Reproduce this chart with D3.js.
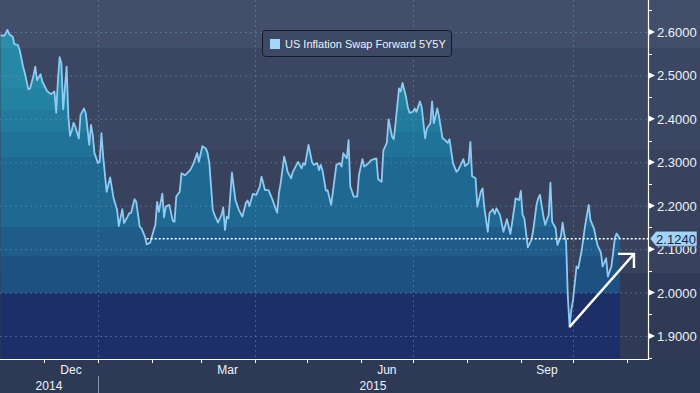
<!DOCTYPE html>
<html>
<head>
<meta charset="utf-8">
<script src="https://d3js.org/d3.v7.min.js"></script>
<style>
  body { margin: 0; background: #2e3a55; }
  svg { display: block; }
  text { font-family: "Liberation Sans", Arial, sans-serif; }
</style>
</head>
<body>
<svg id="chart" width="700" height="393"></svg>
<script>
// US Inflation Swap Forward 5Y5Y, Nov 2014 - Oct 2015
var dates = ["2014-11-06","2014-11-08","2014-11-09","2014-11-10","2014-11-11","2014-11-13","2014-11-14","2014-11-16","2014-11-17","2014-11-19",
  "2014-11-20","2014-11-22","2014-11-23","2014-11-25","2014-11-26","2014-11-27","2014-11-29","2014-11-30","2014-12-02","2014-12-03",
  "2014-12-05","2014-12-07","2014-12-08","2014-12-09","2014-12-10","2014-12-11","2014-12-12","2014-12-14","2014-12-15","2014-12-16",
  "2014-12-17","2014-12-18","2014-12-19","2014-12-21","2014-12-22","2014-12-24","2014-12-25","2014-12-27","2014-12-28","2014-12-29",
  "2014-12-30","2015-01-01","2015-01-02","2015-01-03","2015-01-04","2015-01-06","2015-01-08","2015-01-10","2015-01-12","2015-01-13",
  "2015-01-15","2015-01-16","2015-01-18","2015-01-19","2015-01-20","2015-01-22","2015-01-23","2015-01-25","2015-01-26","2015-01-28",
  "2015-01-29","2015-01-31","2015-02-01","2015-02-03","2015-02-04","2015-02-05","2015-02-07","2015-02-08","2015-02-09","2015-02-11",
  "2015-02-13","2015-02-14","2015-02-15","2015-02-17","2015-02-18","2015-02-20","2015-02-22","2015-02-23","2015-02-25","2015-02-27",
  "2015-02-28","2015-03-02","2015-03-04","2015-03-05","2015-03-06","2015-03-08","2015-03-09","2015-03-11","2015-03-13","2015-03-14",
  "2015-03-15","2015-03-16","2015-03-17","2015-03-18","2015-03-19","2015-03-21","2015-03-23","2015-03-25","2015-03-27","2015-03-28",
  "2015-03-29","2015-03-31","2015-04-02","2015-04-04","2015-04-05","2015-04-07","2015-04-09","2015-04-11","2015-04-13","2015-04-14",
  "2015-04-15","2015-04-16","2015-04-18","2015-04-19","2015-04-20","2015-04-22","2015-04-23","2015-04-26","2015-04-28","2015-04-29",
  "2015-04-30","2015-05-02","2015-05-04","2015-05-05","2015-05-07","2015-05-08","2015-05-09","2015-05-10","2015-05-12","2015-05-13",
  "2015-05-15","2015-05-16","2015-05-18","2015-05-20","2015-05-21","2015-05-22","2015-05-24","2015-05-25","2015-05-26","2015-05-28",
  "2015-05-30","2015-05-31","2015-06-02","2015-06-03","2015-06-05","2015-06-07","2015-06-10","2015-06-11","2015-06-13","2015-06-14",
  "2015-06-16","2015-06-17","2015-06-19","2015-06-20","2015-06-21","2015-06-23","2015-06-24","2015-06-25","2015-06-27","2015-06-28",
  "2015-06-29","2015-07-01","2015-07-02","2015-07-03","2015-07-05","2015-07-06","2015-07-08","2015-07-09","2015-07-11","2015-07-12",
  "2015-07-13","2015-07-15","2015-07-16","2015-07-18","2015-07-19","2015-07-21","2015-07-22","2015-07-24","2015-07-26","2015-07-27",
  "2015-07-30","2015-07-31","2015-08-02","2015-08-03","2015-08-04","2015-08-06","2015-08-07","2015-08-09","2015-08-10","2015-08-11",
  "2015-08-13","2015-08-14","2015-08-16","2015-08-17","2015-08-18","2015-08-20","2015-08-22","2015-08-24","2015-08-26","2015-08-27",
  "2015-08-29","2015-08-31","2015-09-01","2015-09-02","2015-09-03","2015-09-05","2015-09-07","2015-09-08","2015-09-10","2015-09-11",
  "2015-09-12","2015-09-14","2015-09-15","2015-09-17","2015-09-18","2015-09-19","2015-09-21","2015-09-22","2015-09-24","2015-09-25",
  "2015-09-26","2015-09-27","2015-09-28","2015-09-29","2015-09-30","2015-10-01","2015-10-03","2015-10-04","2015-10-06","2015-10-08",
  "2015-10-10","2015-10-11","2015-10-13","2015-10-15","2015-10-17","2015-10-18","2015-10-20","2015-10-21","2015-10-23","2015-10-24",
  "2015-10-25","2015-10-26","2015-10-28"];

var values = [2.593,2.591,2.597,2.605,2.595,2.589,2.572,2.570,2.559,2.520,
  2.505,2.468,2.470,2.501,2.520,2.489,2.503,2.486,2.470,2.463,
  2.457,2.463,2.414,2.489,2.542,2.528,2.422,2.520,2.405,2.361,
  2.374,2.391,2.382,2.355,2.409,2.424,2.413,2.340,2.386,2.363,
  2.321,2.298,2.301,2.367,2.313,2.232,2.265,2.217,2.190,2.153,
  2.192,2.160,2.175,2.183,2.183,2.215,2.209,2.152,2.148,2.129,
  2.111,2.115,2.129,2.156,2.209,2.186,2.228,2.173,2.198,2.202,
  2.165,2.163,2.221,2.232,2.275,2.270,2.278,2.282,2.298,2.321,
  2.301,2.337,2.332,2.321,2.298,2.190,2.179,2.161,2.179,2.196,
  2.144,2.175,2.171,2.221,2.276,2.213,2.190,2.175,2.207,2.212,
  2.199,2.227,2.225,2.244,2.267,2.236,2.236,2.217,2.194,2.184,
  2.229,2.252,2.313,2.298,2.278,2.263,2.278,2.301,2.286,2.298,
  2.294,2.340,2.301,2.294,2.298,2.282,2.294,2.282,2.235,2.235,
  2.202,2.232,2.294,2.298,2.290,2.321,2.309,2.351,2.244,2.221,
  2.221,2.271,2.307,2.290,2.296,2.305,2.309,2.261,2.255,2.327,
  2.345,2.399,2.359,2.353,2.390,2.470,2.463,2.483,2.451,2.428,
  2.414,2.416,2.424,2.416,2.440,2.428,2.355,2.378,2.390,2.440,
  2.390,2.424,2.405,2.355,2.353,2.345,2.353,2.298,2.278,2.282,
  2.307,2.291,2.298,2.347,2.268,2.263,2.198,2.232,2.240,2.196,
  2.140,2.183,2.192,2.181,2.194,2.179,2.140,2.169,2.135,2.161,
  2.217,2.213,2.234,2.179,2.171,2.104,2.121,2.140,2.202,2.217,
  2.225,2.175,2.156,2.179,2.253,2.163,2.148,2.110,2.129,2.161,
  2.133,2.117,1.990,1.921,1.960,1.983,2.060,2.056,2.098,2.156,
  2.202,2.167,2.148,2.110,2.092,2.060,2.079,2.037,2.060,2.090,
  2.125,2.136,2.124];

var yTicks = [1.9, 2.0, 2.1, 2.2, 2.3, 2.4, 2.5, 2.6];
var yMinorTicks = [1.85, 1.95, 2.05, 2.15, 2.25, 2.35, 2.45, 2.55, 2.65];
var quarterLabels = ["Dec", "Mar", "Jun", "Sep"];
var quarterMonths = ["2014-12-01", "2015-03-01", "2015-06-01", "2015-09-01"];
var yearLabels = ["2014", "2015"];
var seriesName = "US Inflation Swap Forward 5Y5Y";
var lastValue = 2.1240;
var priceLineFrom = "2015-01-29";
var arrowFrom = ["2015-09-29", 1.921];
var arrowTo = ["2015-11-05", 2.089];

var parse = d3.timeParse("%Y-%m-%d");
var data = dates.map(function(d, i) { return { date: parse(d), value: values[i] }; });

var svg = d3.select("#chart"),
    W = 700, H = 393,
    plotW = 648, plotH = 359;

var x = d3.scaleTime()
    .domain([parse("2014-12-01"), parse("2015-11-01")])
    .range([44, 627]);
var y = d3.scaleLinear()
    .domain([1.9, 2.6])
    .range([336, 32]);

var defs = svg.append("defs");

// banded gradients (hard stops)
function bands(id, list) {
  var g = defs.append("linearGradient").attr("id", id)
      .attr("gradientUnits", "userSpaceOnUse")
      .attr("x1", 0).attr("x2", 0).attr("y1", 0).attr("y2", H);
  list.forEach(function(b) {
    g.append("stop").attr("offset", b[0] / H).attr("stop-color", b[2]);
    g.append("stop").attr("offset", b[1] / H).attr("stop-color", b[2]);
  });
}
bands("bg", [[0, 48, "#434f6a"], [48, 150, "#3b4662"], [150, 273, "#38425d"], [273, 359, "#303a55"], [359, 393, "#2e3a55"]]);
bands("fill", [[0, 48, "#2a8ea9"], [48, 88, "#2788a5"], [88, 110, "#2482a1"], [110, 132, "#227b9d"],
  [132, 157, "#207398"], [157, 227, "#1f6891"], [227, 256, "#1f5c89"], [256, y(2.0), "#1e5082"], [y(2.0), 393, "#1c2f68"]]);

svg.append("rect").attr("width", W).attr("height", H).attr("fill", "url(#bg)");

// area + line
var area = d3.area()
    .x(function(d) { return x(d.date); })
    .y0(plotH)
    .y1(function(d) { return y(d.value); });
var line = d3.line()
    .x(function(d) { return x(d.date); })
    .y(function(d) { return y(d.value); });

svg.append("path").datum(data).attr("d", area).attr("fill", "url(#fill)");

// gridlines
svg.append("g").selectAll("line").data(yTicks).enter().append("line")
    .attr("x1", 0).attr("x2", plotW)
    .attr("y1", function(d) { return y(d) + 0.5; }).attr("y2", function(d) { return y(d) + 0.5; })
    .attr("stroke", "#5f93b0").attr("stroke-opacity", 0.55).attr("stroke-dasharray", "2,3");

var quarterStarts = d3.timeMonth.every(3).range(parse("2015-01-01"), parse("2015-11-01"));
svg.append("g").selectAll("line").data(quarterStarts).enter().append("line")
    .attr("x1", function(d) { return Math.round(x(d)) + 0.5; }).attr("x2", function(d) { return Math.round(x(d)) + 0.5; })
    .attr("y1", 0).attr("y2", plotH)
    .attr("stroke", "#5f93b0").attr("stroke-opacity", 0.5).attr("stroke-dasharray", "2,3");

svg.append("path").datum(data).attr("d", line)
    .attr("fill", "none").attr("stroke", "#8fcaf3").attr("stroke-width", 1.8)
    .attr("stroke-linejoin", "round");

// last price dotted line
svg.append("line")
    .attr("x1", x(parse(priceLineFrom))).attr("x2", plotW)
    .attr("y1", y(lastValue)).attr("y2", y(lastValue))
    .attr("stroke", "#ffffff").attr("stroke-width", 1.4).attr("stroke-dasharray", "2,2");

// x axis
svg.append("line").attr("x1", 0).attr("x2", plotW).attr("y1", plotH + 0.5).attr("y2", plotH + 0.5)
    .attr("stroke", "#ffffff").attr("stroke-width", 1.2);
var months = d3.timeMonth.range(parse("2014-12-01"), parse("2015-11-02"));
svg.append("g").selectAll("line").data(months).enter().append("line")
    .attr("x1", function(d) { return Math.round(x(d)) + 0.5; }).attr("x2", function(d) { return Math.round(x(d)) + 0.5; })
    .attr("y1", plotH).attr("y2", plotH + 4)
    .attr("stroke", "#ffffff");
svg.append("g").selectAll("text").data(quarterMonths).enter().append("text")
    .attr("x", function(d) { var s = parse(d); return (x(s) + x(d3.timeMonth.offset(s, 1))) / 2; })
    .attr("y", plotH + 15)
    .attr("text-anchor", "middle").attr("fill", "#eef2f8").attr("font-size", 12)
    .text(function(d, i) { return quarterLabels[i]; });

var yearEdge = x(parse("2015-01-01"));
svg.append("line").attr("x1", Math.round(yearEdge) + 0.5).attr("x2", Math.round(yearEdge) + 0.5)
    .attr("y1", 376).attr("y2", H).attr("stroke", "#8a97ad");
svg.append("g").selectAll("text").data(yearLabels).enter().append("text")
    .attr("x", function(d, i) { return i === 0 ? yearEdge / 2 : (yearEdge + plotW) / 2; })
    .attr("y", plotH + 31)
    .attr("text-anchor", "middle").attr("fill", "#eef2f8").attr("font-size", 12)
    .text(function(d) { return d; });

// y axis (right)
svg.append("line").attr("x1", plotW + 0.5).attr("x2", plotW + 0.5).attr("y1", 0).attr("y2", plotH + 1)
    .attr("stroke", "#ffffff").attr("stroke-width", 1.2);
svg.append("g").selectAll("line").data(yMinorTicks).enter().append("line")
    .attr("x1", plotW).attr("x2", plotW + 4)
    .attr("y1", function(d) { return Math.round(y(d)) + 0.5; }).attr("y2", function(d) { return Math.round(y(d)) + 0.5; })
    .attr("stroke", "#ffffff");
var yt = svg.append("g").selectAll("g").data(yTicks).enter().append("g")
    .attr("transform", function(d) { return "translate(" + plotW + "," + y(d) + ")"; });
yt.append("path").attr("d", "M1,-3L7,0L1,3Z").attr("fill", "#ffffff");
yt.append("text").attr("x", 9).attr("y", 5)
    .attr("fill", "#eef2f8").attr("font-size", 13)
    .text(function(d) { return d3.format(".4f")(d); });

// last value tag
var tag = svg.append("g").attr("transform", "translate(" + (plotW + 2) + "," + y(lastValue) + ")");
tag.append("path").attr("d", "M0,0L6,-7.5H47V7.5H6Z")
    .attr("fill", "#a3d4f8").attr("stroke", "#2e3a55").attr("stroke-width", 0.5);
tag.append("text").attr("x", 26).attr("y", 5).attr("text-anchor", "middle")
    .attr("fill", "#1b2540").attr("font-size", 13)
    .text(d3.format(".4f")(lastValue));

// annotation arrow
var ax0 = x(parse(arrowFrom[0])), ay0 = y(arrowFrom[1]),
    ax1 = x(parse(arrowTo[0])), ay1 = y(arrowTo[1]);
svg.append("path")
    .attr("d", "M" + ax0 + "," + ay0 + "L" + ax1 + "," + ay1 + "M" + (ax1 - 16) + "," + ay1 + "L" + ax1 + "," + ay1 + "L" + ax1 + "," + (ay1 + 14))
    .attr("fill", "none").attr("stroke", "#ffffff").attr("stroke-width", 2.4);

// legend
var lg = svg.append("g").attr("transform", "translate(262,30)");
lg.append("rect").attr("x", 0.5).attr("y", 0.5).attr("width", 189).attr("height", 26).attr("rx", 3)
    .attr("fill", "#3d4864").attr("stroke", "#151a26");
lg.append("rect").attr("x", 8).attr("y", 9).attr("width", 10).attr("height", 10).attr("fill", "#a6d4fa");
lg.append("text").attr("x", 23).attr("y", 18).attr("fill", "#eef2f8").attr("font-size", 11)
    .text(seriesName);
</script>
</body>
</html>
